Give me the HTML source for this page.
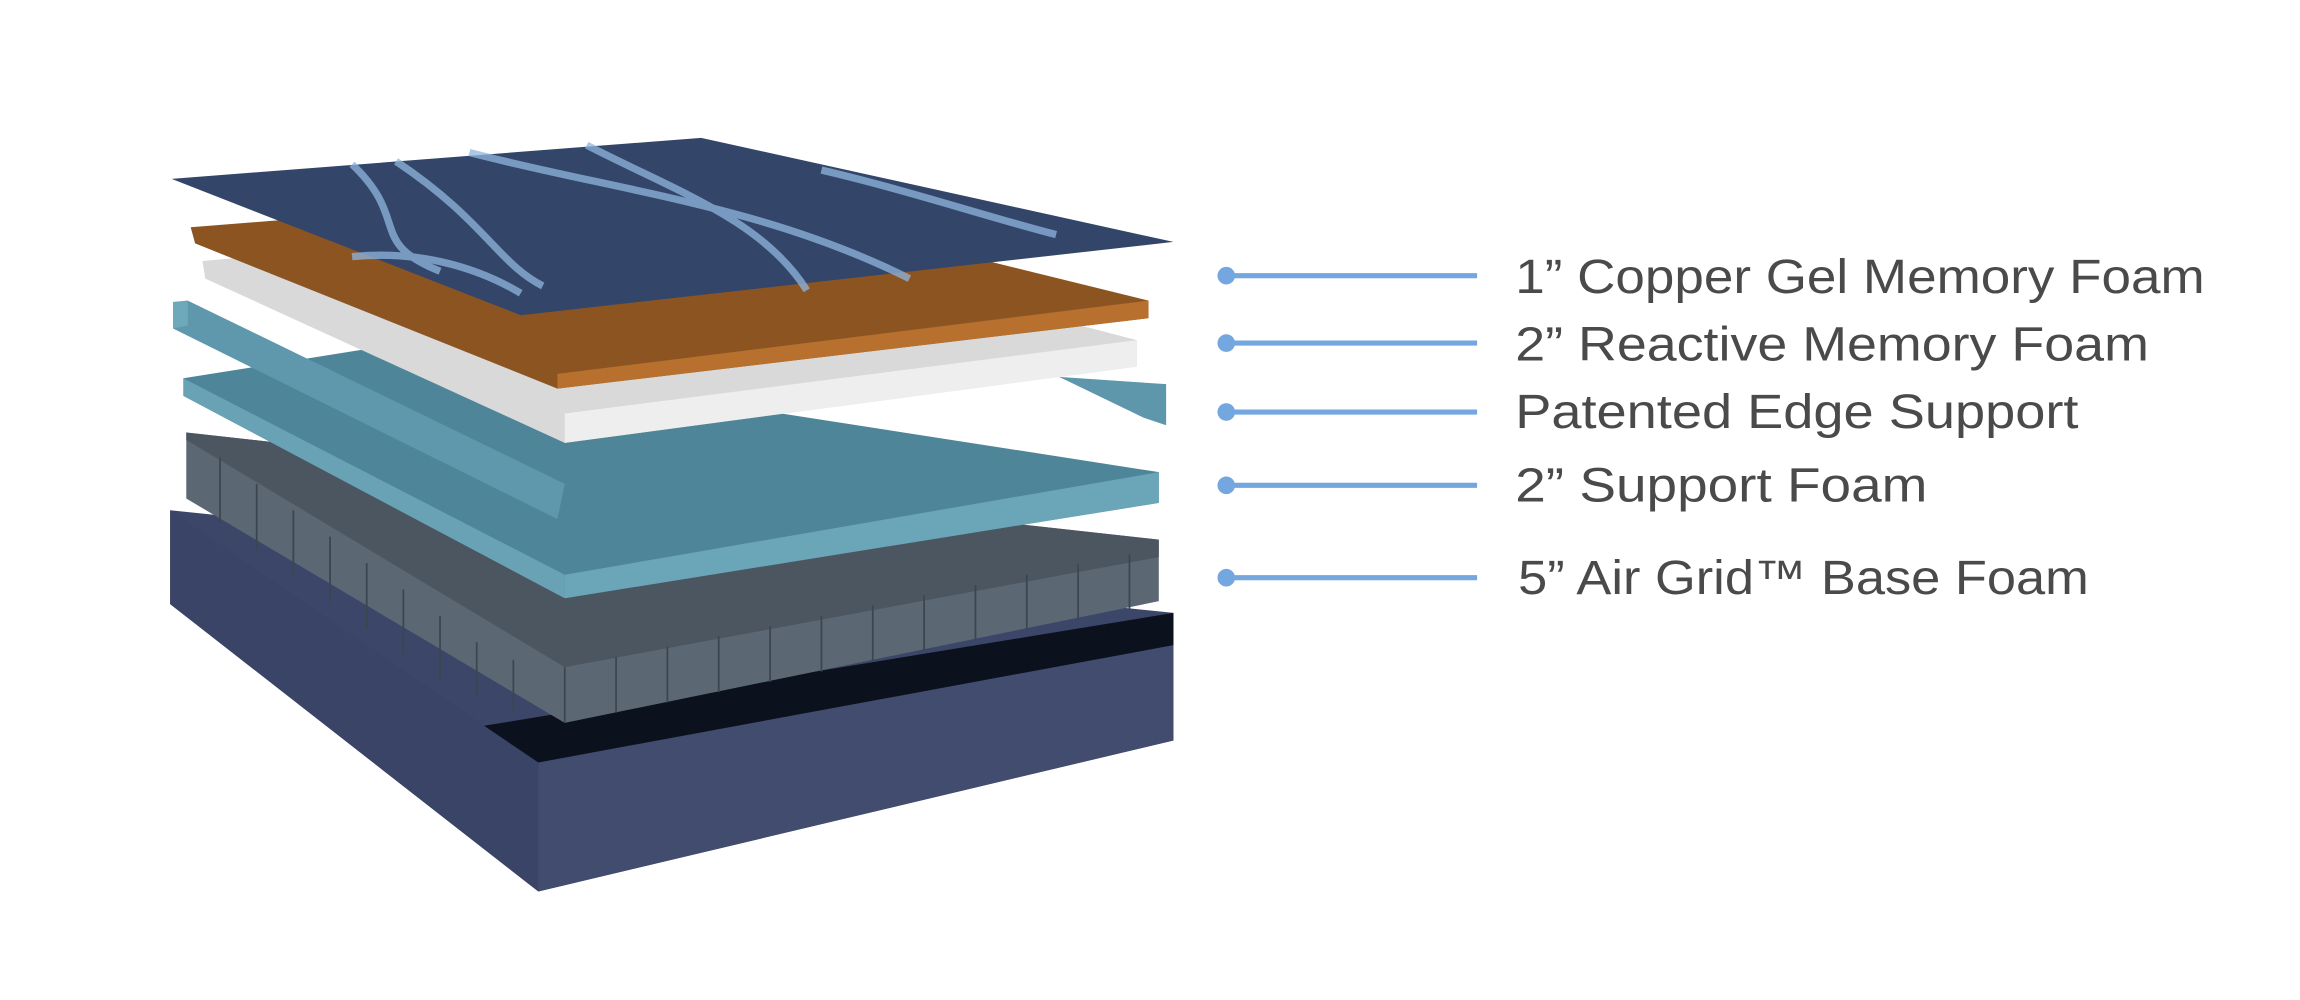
<!DOCTYPE html>
<html><head><meta charset="utf-8"><style>html,body{margin:0;padding:0;background:#fff}svg{display:block}</style></head>
<body>
<svg width="2300" height="1000" viewBox="0 0 1568 682" preserveAspectRatio="none" xmlns="http://www.w3.org/2000/svg">
<rect width="1568" height="682" fill="#fff"/>
<!-- base -->
<polygon points="116,348 800,418 800,505 367,608 116,412" fill="#3b4669"/>
<polygon points="116,348 367,520 367,608 116,412" fill="#3a4466"/>
<polygon points="367,520 800,440 800,505 367,608" fill="#414c6e"/>
<polygon points="330,495 800,418 800,440 367,520" fill="#0c111e"/>
<!-- grid foam -->
<polygon points="127,295 790,368 790,410 385,493 127,340" fill="#5b6772"/>
<polygon points="127,295 790,368 790,380 385,455 127,300" fill="#4b5660"/>
<g stroke="#3c464f" stroke-width="1.2">
<line x1="385" y1="455" x2="385" y2="493"/>
<line x1="420" y1="448" x2="420" y2="486"/><line x1="455" y1="441" x2="455" y2="479"/><line x1="490" y1="434" x2="490" y2="472"/><line x1="525" y1="427" x2="525" y2="465"/><line x1="560" y1="420" x2="560" y2="458"/><line x1="595" y1="413" x2="595" y2="451"/><line x1="630" y1="406" x2="630" y2="444"/><line x1="665" y1="399" x2="665" y2="437"/><line x1="700" y1="392" x2="700" y2="430"/><line x1="735" y1="385" x2="735" y2="423"/><line x1="770" y1="378" x2="770" y2="416"/>
<line x1="150" y1="312" x2="150" y2="357"/><line x1="175" y1="330" x2="175" y2="375"/><line x1="200" y1="348" x2="200" y2="393"/><line x1="225" y1="366" x2="225" y2="411"/><line x1="250" y1="384" x2="250" y2="429"/><line x1="275" y1="402" x2="275" y2="447"/><line x1="300" y1="420" x2="300" y2="465"/><line x1="325" y1="438" x2="325" y2="476"/><line x1="350" y1="450" x2="350" y2="485"/>
</g>
<!-- support foam -->
<polygon points="125,258 250,238 790,322 790,343 385,408 125,270" fill="#4f8598"/>
<polygon points="125,258 385,392 385,408 125,270" fill="#6aa2b5"/>
<polygon points="385,392 790,322 790,343 385,408" fill="#6ba5b8"/>
<!-- edge supports -->
<polygon points="118,206 128,205 385,330 380,354 118,224" fill="#5f98ac"/>
<polygon points="118,206 128,205 128,222 118,224" fill="#6ea8bb"/>
<polygon points="722,257 795,262 795,290 780,285" fill="#5e97ab"/>
<!-- white layer -->
<polygon points="138,178 460,150 775,232 775,250 385,302 140,190" fill="#d9d9d9"/>
<polygon points="385,282 775,232 775,250 385,302" fill="#eeeeee"/>
<!-- copper -->
<polygon points="130,155 470,128 783,205 783,217 380,265 133,166" fill="#8c5421"/>
<polygon points="380,255 783,205 783,217 380,265" fill="#b8702e"/>
<!-- top cover -->
<polygon points="117,122 478,94 800,165 355,215" fill="#33466a"/>
<g fill="none" stroke="#8fb6df" stroke-width="5" opacity="0.75">
<path d="M240,112 C280,150 250,165 300,185"/>
<path d="M320,104 C420,130 520,140 620,190"/>
<path d="M400,99 C460,130 520,150 550,198"/>
<path d="M560,116 C620,130 680,150 720,160"/>
<path d="M240,175 C290,170 330,185 355,200"/>
<path d="M270,110 C330,150 340,180 370,195"/>
</g>
<!-- connectors -->
<g stroke="#74a6e0" stroke-width="3.5">
<line x1="836" y1="188" x2="1007" y2="188"/>
<line x1="836" y1="234" x2="1007" y2="234"/>
<line x1="836" y1="281" x2="1007" y2="281"/>
<line x1="836" y1="331" x2="1007" y2="331"/>
<line x1="836" y1="394" x2="1007" y2="394"/>
</g>
<g fill="#74a6e0">
<circle cx="836" cy="188" r="6"/><circle cx="836" cy="234" r="6"/><circle cx="836" cy="281" r="6"/><circle cx="836" cy="331" r="6"/><circle cx="836" cy="394" r="6"/>
</g>
<g font-family="Liberation Sans, sans-serif" font-size="33" fill="#4a4a4a">
<text x="1033" y="200" textLength="470" lengthAdjust="spacingAndGlyphs">1” Copper Gel Memory Foam</text>
<text x="1033" y="246" textLength="432" lengthAdjust="spacingAndGlyphs">2” Reactive Memory Foam</text>
<text x="1033" y="292" textLength="384" lengthAdjust="spacingAndGlyphs">Patented Edge Support</text>
<text x="1033" y="342" textLength="281" lengthAdjust="spacingAndGlyphs">2” Support Foam</text>
<text x="1035" y="405" textLength="389" lengthAdjust="spacingAndGlyphs">5” Air Grid™ Base Foam</text>
</g>
</svg>
</body></html>
